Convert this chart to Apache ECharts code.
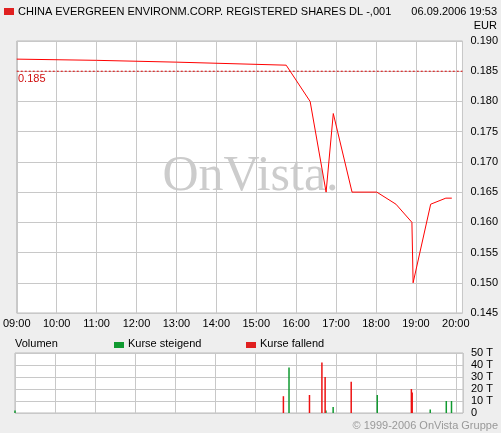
<!DOCTYPE html><html><head><meta charset="utf-8"><script src="https://cdn.jsdelivr.net/npm/echarts@6/dist/echarts.min.js"></script>
<style>html,body{margin:0;background:#eeeeee}#c{width:501px;height:433px}</style></head><body><div id="c"></div><script>
const priceT=[9,11,13,15.75,16.35,16.75,16.93,17.4,18.02,18.5,18.9,18.93,19.37,19.75,19.9];
const priceV=[0.187,0.1868,0.1865,0.186,0.180,0.165,0.178,0.165,0.165,0.163,0.160,0.150,0.163,0.164,0.164];
const refPrice=0.185;
const upT=[9.0,15.83,16.75,16.93,18.03,19.35,19.75,19.88];
const upV=[2,38,2,5,15,3,10,10];
const downT=[15.69,16.34,16.65,16.73,17.38,18.88,18.9];
const downV=[14,15,42,30,26,20,17];
const hourLabels=['09:00','10:00','11:00','12:00','13:00','14:00','15:00','16:00','17:00','18:00','19:00','20:00'];
const ch=echarts.init(document.getElementById('c'));
const lab={fontFamily:'Arial, Liberation Sans',fontSize:11,color:'#000'};
const grid=c=>({show:true,backgroundColor:'#fff',borderColor:'#bbb',borderWidth:1,...c});
const xa=(gi,show)=>({type:'value',gridIndex:gi,min:9,max:20.1667,interval:1,axisLine:{show:false},axisTick:{show:false},
 splitLine:{lineStyle:{color:'#c8c8c8'}},axisLabel:{show:show,...lab,margin:5,formatter:v=>hourLabels[Math.round(v-9)]||'',showMaxLabel:false}});
ch.setOption({animation:false,
grid:[grid({left:15,top:41,width:448,height:272}),grid({left:15,top:353,width:448,height:60})],
xAxis:[xa(0,true),xa(1,false)],
yAxis:[{type:'value',gridIndex:0,position:'right',min:0.145,max:0.190,interval:0.005,axisLine:{show:false},axisTick:{show:false},
 splitLine:{lineStyle:{color:'#c8c8c8'}},axisLabel:{...lab,margin:8,formatter:v=>v.toFixed(3)}},
 {type:'value',gridIndex:1,position:'right',min:0,max:50,interval:10,axisLine:{show:false},axisTick:{show:false},
 splitLine:{lineStyle:{color:'#c8c8c8'}},axisLabel:{...lab,margin:8,formatter:v=>v?v+' T':'0'}}],
graphic:[
 {type:'text',left:'center',top:152,z:0,style:{text:'OnVista.',font:'50px "Liberation Serif", serif',fill:'#cccccc'}},
 {type:'rect',shape:{x:4,y:8,width:10,height:7},style:{fill:'#e02020'}},
 {type:'text',x:18,y:6,style:{text:'CHINA EVERGREEN ENVIRONM.CORP. REGISTERED SHARES DL -,001',font:'11px Arial, "Liberation Sans"',fill:'#000'}},
 {type:'text',right:4,y:6,style:{text:'06.09.2006 19:53',font:'11px Arial, "Liberation Sans"',fill:'#000'}},
 {type:'text',right:4,y:20,style:{text:'EUR',font:'11px Arial, "Liberation Sans"',fill:'#000'}},
 {type:'text',x:18,y:73,z:10,style:{text:'0.185',font:'11px Arial, "Liberation Sans"',fill:'#d01010'}},
 {type:'text',x:15,y:338,style:{text:'Volumen',font:'11px Arial, "Liberation Sans"',fill:'#000'}},
 {type:'rect',shape:{x:114,y:342,width:10,height:6},style:{fill:'#109a30'}},
 {type:'text',x:128,y:338,style:{text:'Kurse steigend',font:'11px Arial, "Liberation Sans"',fill:'#000'}},
 {type:'rect',shape:{x:246,y:342,width:10,height:6},style:{fill:'#e02020'}},
 {type:'text',x:260,y:338,style:{text:'Kurse fallend',font:'11px Arial, "Liberation Sans"',fill:'#000'}},
 {type:'text',right:3,y:420,style:{text:'© 1999-2006 OnVista Gruppe',font:'11px Arial, "Liberation Sans"',fill:'#999'}}
],
series:[
 {type:'line',xAxisIndex:0,yAxisIndex:0,data:[[9,refPrice],[20.1667,refPrice]],symbol:'none',silent:true,lineStyle:{color:'#e00000',type:[2,2],width:1}},
 {type:'line',xAxisIndex:0,yAxisIndex:0,data:priceT.map((t,i)=>[t,priceV[i]]),symbol:'none',lineStyle:{color:'#ff0000',width:1}},
 {type:'bar',xAxisIndex:1,yAxisIndex:1,barWidth:1.5,barGap:'-100%',data:upT.map((t,i)=>[t,upV[i]]),itemStyle:{color:'#109a30'}},
 {type:'bar',xAxisIndex:1,yAxisIndex:1,barWidth:1.5,barGap:'-100%',data:downT.map((t,i)=>[t,downV[i]]),itemStyle:{color:'#ee1111'}}
]});
</script></body></html>
